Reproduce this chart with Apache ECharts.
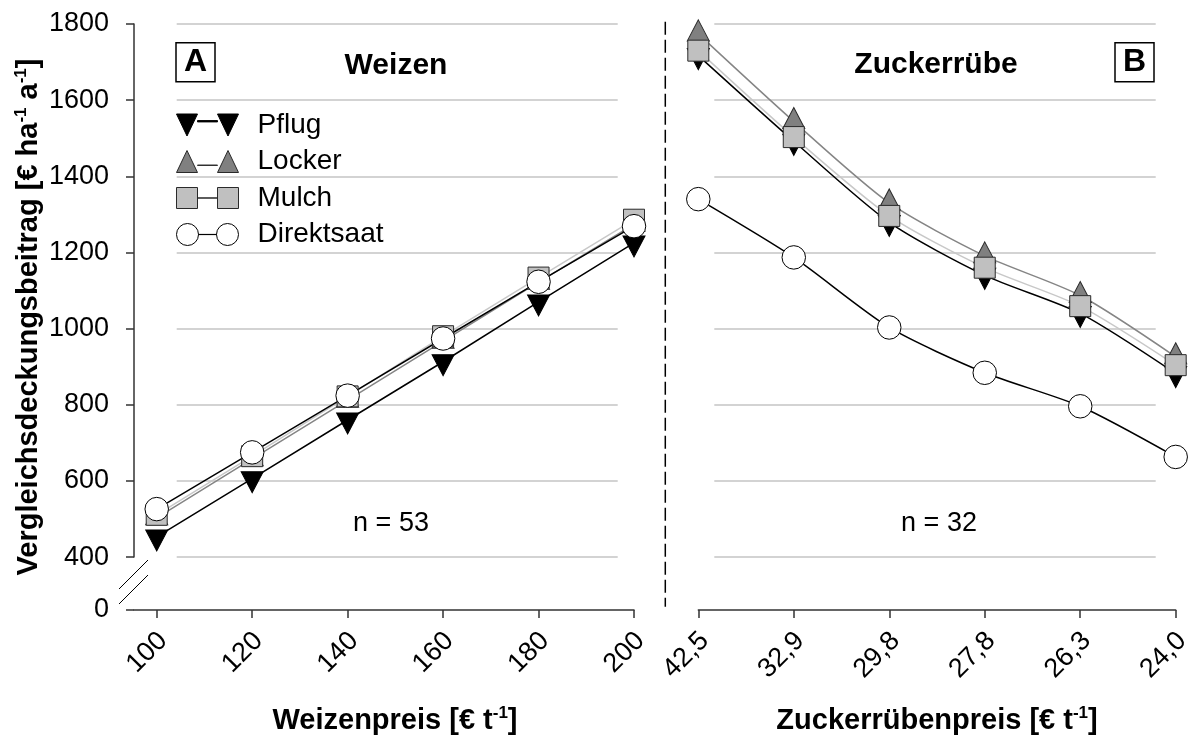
<!DOCTYPE html>
<html><head><meta charset="utf-8">
<script src="https://cdn.jsdelivr.net/npm/echarts@6.0.0/dist/echarts.min.js"></script>
<style>html,body{margin:0;padding:0;background:#fff}#c{width:1201px;height:751px}</style>
</head><body><div id="c"></div>
<script>
// ---- data ----
const wheatPrice = [100, 120, 140, 160, 180, 200];
const beetPrice = ['42,5', '32,9', '29,8', '27,8', '26,3', '24,0'];
const seriesNames = ['Pflug', 'Locker', 'Mulch', 'Direktsaat'];
// Panel A (Weizen)
const pflugA  = [453, 606, 760, 913, 1070, 1225];
const lockerA = [503, 658, 812, 967, 1122, 1274];
const mulchA  = [511, 665, 822, 980, 1134, 1286];
const direktA = [526, 675, 824, 974, 1123, 1269];
// Panel B (Zuckerrübe)
const pflugB  = [1717, 1492, 1279, 1140, 1040, 882];
const lockerB = [1774, 1544, 1330, 1191, 1087, 926];
const mulchB  = [1730, 1503, 1296, 1160, 1059, 904];
const direktB = [1340, 1187, 1003, 884, 796, 663];

const FONT = '"Liberation Sans", Arial, Helvetica, sans-serif';
const AX = '#333';
const BLACK = '#000';

const styles = {
  Pflug:      {symbol: 'path://M0,0L20,0L10,20Z', size: [22, 21], offset: [0, '16.7%'], fill: '#000', border: '#000', line: '#000',
               icon: 'path://M0,0L21,0L10.5,22ZM41,0L62,0L51.5,22ZM21,6.6L41,6.6L41,7.9L21,7.9Z'},
  Locker:     {symbol: 'triangle', size: [22, 21], offset: [0, '-16.7%'], fill: '#808080', border: '#2a2a2a', line: '#858585',
               icon: 'path://M10.5,0L21,22L0,22ZM51.5,0L62,22L41,22ZM21,14.6L41,14.6L41,14.9L21,14.9Z'},
  Mulch:      {symbol: 'rect', size: 21, offset: [0, 0], fill: '#c0c0c0', border: '#2a2a2a', line: '#c8c8c8',
               icon: 'path://M0,0.5L21,0.5L21,21.5L0,21.5ZM41,0.5L62,0.5L62,21.5L41,21.5ZM21,10.9L41,10.9L41,11.1L21,11.1Z'},
  Direktsaat: {symbol: 'circle', size: 23.5, offset: [0, 0], fill: '#fff', border: '#000', line: '#000',
               icon: 'path://M0,11a11,11 0 1,0 22,0a11,11 0 1,0 -22,0ZM40,11a11,11 0 1,0 22,0a11,11 0 1,0 -22,0ZM22,10.9L40,10.9L40,11.1L22,11.1Z'}
};

const panelA = {Pflug: pflugA, Locker: lockerA, Mulch: mulchA, Direktsaat: direktA};
const panelB = {Pflug: pflugB, Locker: lockerB, Mulch: mulchB, Direktsaat: direktB};

function mkSeries(name, idx, data, smooth) {
  const s = styles[name];
  return {
    name, type: 'line', xAxisIndex: idx, yAxisIndex: idx, data, smooth,
    symbol: s.symbol, symbolSize: s.size, symbolOffset: s.offset, showAllSymbol: true,
    itemStyle: {color: s.fill, borderColor: s.border, borderWidth: 1},
    lineStyle: {color: s.line, width: 1.5},
    emphasis: {disabled: true}, animation: false
  };
}

const series = [];
seriesNames.forEach(n => series.push(mkSeries(n, 0, wheatPrice.map((x, i) => [x, panelA[n][i]]), false)));
seriesNames.forEach(n => series.push(mkSeries(n, 1, panelB[n], 0.25)));

const yBreaks = [{start: 0, end: 400, gap: 139}];
const tickLabel = {color: BLACK, fontSize: 27, fontFamily: FONT};
const xTickLabel = Object.assign({rotate: 45, margin: 33,
  formatter: v => '{t|' + v + '}',
  rich: {t: {fontSize: 27, fontFamily: FONT, color: BLACK, padding: [0, -9, 0, 0]}}}, tickLabel);
const nameStyle = {color: BLACK, fontSize: 29, fontWeight: 'bold', fontFamily: FONT, lineHeight: 32,
  rich: {s: {fontSize: 17, fontWeight: 'bold', fontFamily: FONT, color: BLACK, verticalAlign: 'top', lineHeight: 17}}};

const gridLineAxis = (g) => ({
  gridIndex: g, type: 'value', min: 400, max: 1800, interval: 200,
  axisLine: {show: false}, axisTick: {show: false}, axisLabel: {show: false},
  splitLine: {show: true, lineStyle: {color: '#c4c4c4', width: 1.5}}
});

const option = {
  animation: false,
  backgroundColor: '#fff',
  grid: [
    {left: 134, right: 567, top: 24, bottom: 141},
    {left: 698.3, right: 25.3, top: 24, bottom: 141},
    {left: 176.7, right: 583.3, top: 24, bottom: 194},
    {left: 714.3, right: 45.3, top: 24, bottom: 194}
  ],
  xAxis: [
    {gridIndex: 0, type: 'value', min: 95.24, max: 200,
     axisLine: {lineStyle: {color: AX, width: 1.5}},
     axisTick: {customValues: wheatPrice, length: 8, lineStyle: {color: AX, width: 1.5}},
     axisLabel: Object.assign({customValues: wheatPrice}, xTickLabel),
     splitLine: {show: false},
     name: 'Weizenpreis [€ t{s|-1}]', nameLocation: 'middle', nameGap: 95,
     nameTextStyle: Object.assign({padding: [0, 0, 0, 22]}, nameStyle)},
    {gridIndex: 1, type: 'category', data: beetPrice, boundaryGap: false,
     axisLine: {lineStyle: {color: AX, width: 1.5}},
     axisTick: {length: 8, interval: 0, lineStyle: {color: AX, width: 1.5}},
     axisLabel: Object.assign({interval: 0}, xTickLabel),
     splitLine: {show: false},
     name: 'Zuckerrübenpreis [€ t{s|-1}]', nameLocation: 'middle', nameGap: 95,
     nameTextStyle: nameStyle},
    {gridIndex: 2, type: 'value', min: 0, max: 1, show: false},
    {gridIndex: 3, type: 'value', min: 0, max: 1, show: false}
  ],
  yAxis: [
    {gridIndex: 0, type: 'value', min: 0, max: 1800, interval: 200,
     breaks: yBreaks, breakArea: {show: false},
     axisLine: {show: true, lineStyle: {color: AX, width: 1.5}},
     axisTick: {show: true, length: 8, lineStyle: {color: AX, width: 1.5}},
     axisLabel: Object.assign({margin: 25, formatter: v => String(v)}, tickLabel),
     splitLine: {show: false},
     name: 'Vergleichsdeckungsbeitrag [€ ha{s|-1} a{s|-1}]', nameLocation: 'middle', nameGap: 86, nameRotate: 90,
     nameTextStyle: Object.assign({}, nameStyle, {padding: [0, 0, 0, 0]})},
    {gridIndex: 1, type: 'value', min: 0, max: 1800, interval: 200,
     breaks: yBreaks, breakArea: {show: false}, show: false},
    gridLineAxis(2),
    gridLineAxis(3)
  ],
  legend: {
    left: 176, top: 111, padding: 0, orient: 'vertical', itemWidth: 62, itemHeight: 23, itemGap: 8.5,
    selectedMode: false,
    textStyle: {color: BLACK, fontSize: 28, fontFamily: FONT, padding: [0, 0, 0, 14]},
    data: seriesNames.map(n => ({name: n, icon: styles[n].icon,
      itemStyle: {color: styles[n].fill, borderColor: styles[n].border, borderWidth: 1}}))
  },
  title: [
    {text: 'A', left: 176, top: 42.7, padding: [3, 8, 3, 8], borderWidth: 1.5, borderColor: BLACK,
     textStyle: {fontSize: 32, fontWeight: 'bold', fontFamily: FONT, color: BLACK, lineHeight: 33}},
    {text: 'B', left: 1115, top: 42.7, padding: [3, 8, 3, 8], borderWidth: 1.5, borderColor: BLACK,
     textStyle: {fontSize: 32, fontWeight: 'bold', fontFamily: FONT, color: BLACK, lineHeight: 33}},
    {text: 'Weizen', left: 396, top: 51, textAlign: 'center', padding: 0,
     textStyle: {fontSize: 30, fontWeight: 'bold', fontFamily: FONT, color: BLACK, lineHeight: 30}},
    {text: 'Zuckerrübe', left: 936, top: 50, textAlign: 'center', padding: 0,
     textStyle: {fontSize: 30, fontWeight: 'bold', fontFamily: FONT, color: BLACK, lineHeight: 30}},
    {text: 'n = 53', left: 391, top: 510, textAlign: 'center', padding: 0,
     textStyle: {fontSize: 27, fontWeight: 'normal', fontFamily: FONT, color: BLACK, lineHeight: 28}},
    {text: 'n = 32', left: 939, top: 510, textAlign: 'center', padding: 0,
     textStyle: {fontSize: 27, fontWeight: 'normal', fontFamily: FONT, color: BLACK, lineHeight: 28}}
  ],
  graphic: [
    {type: 'line', shape: {x1: 665.3, y1: 21.7, x2: 665.3, y2: 606.7}, silent: true,
     style: {stroke: BLACK, lineWidth: 1.5, lineDash: [13, 5]}},
    {type: 'line', shape: {x1: 119, y1: 589, x2: 148, y2: 560}, silent: true, style: {stroke: BLACK, lineWidth: 1}},
    {type: 'line', shape: {x1: 119, y1: 604, x2: 148, y2: 575}, silent: true, style: {stroke: BLACK, lineWidth: 1}}
  ],
  series
};

const chart = echarts.init(document.getElementById('c'));
chart.setOption(option);
</script>
</body></html>
